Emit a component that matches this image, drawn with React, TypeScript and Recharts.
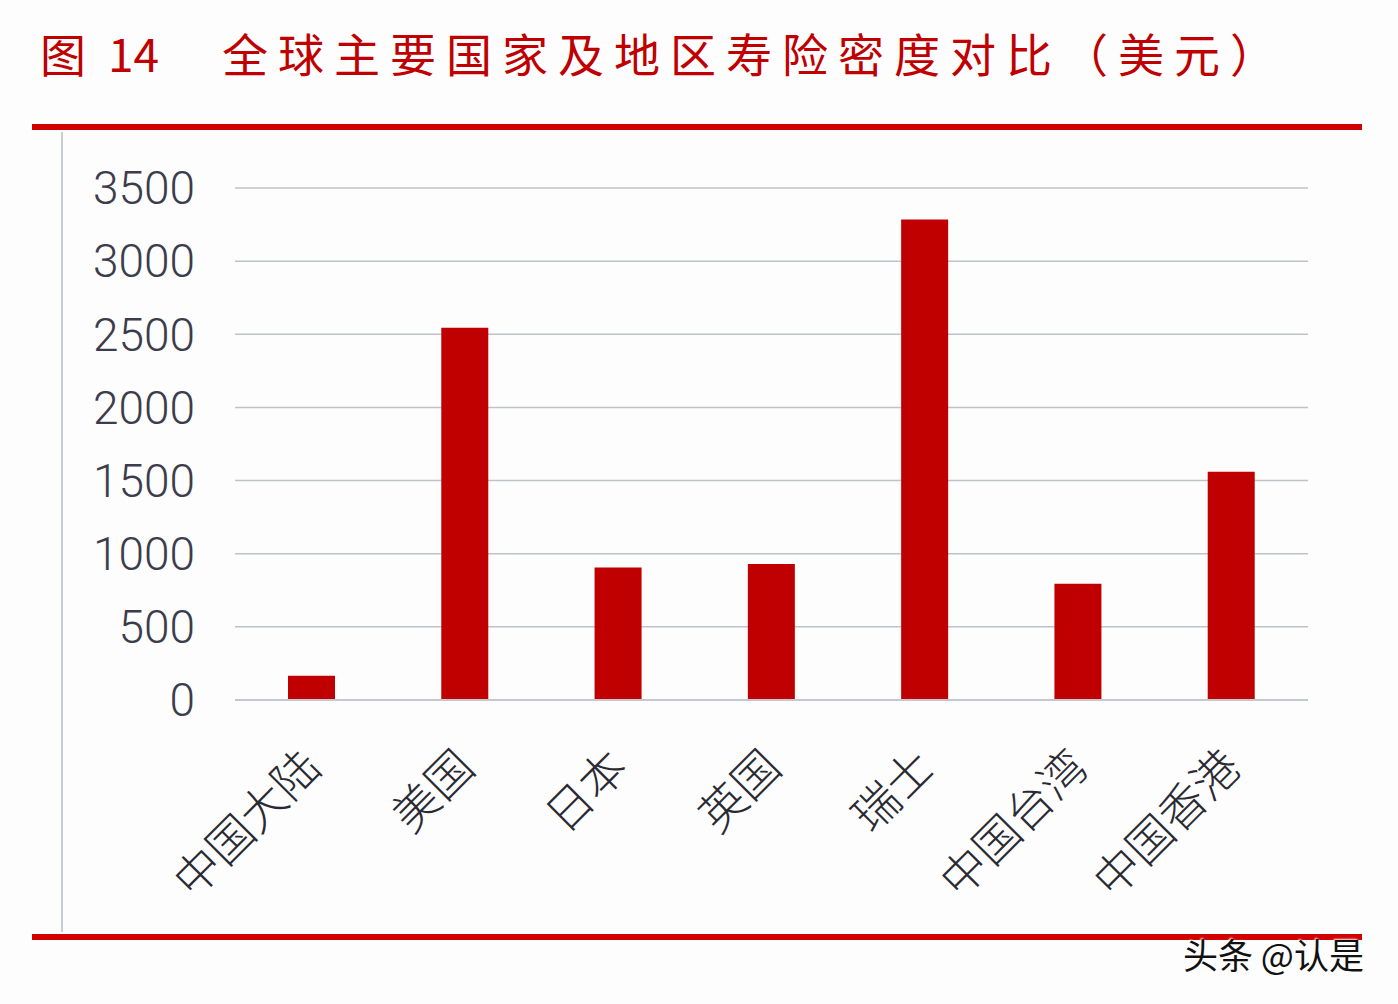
import { BarChart, Bar, XAxis, YAxis, CartesianGrid } from 'recharts'

const regions = ['中国大陆', '美国', '日本', '英国', '瑞士', '中国台湾', '中国香港']
const density = [165, 2545, 905, 930, 3285, 795, 1560]
const yTicks = [0, 500, 1000, 1500, 2000, 2500, 3000, 3500]

const data = regions.map((name, i) => ({ name, value: density[i] }))

const RED = '#c00000'
const LINE_RED = '#d20000'
const cjk = '"Noto Sans CJK SC", "Noto Sans", sans-serif'

function RegionTick({ x, y, payload }: any) {
  return (
    <g transform={`translate(${x + 12},${y + 62})`}>
      <text
        transform="rotate(-45)"
        textAnchor="end"
        fontFamily={cjk}
        fontSize={46}
        fontWeight={300}
        fill="#2a2a32"
      >
        {payload.value}
      </text>
    </g>
  )
}

export default function App() {
  return (
    <div style={{ position: 'absolute', left: 0, top: 0, width: 1398, height: 1004, background: '#fdfdfe', overflow: 'hidden' }}>
      {/* title */}
      <div style={{ position: 'absolute', left: 40, top: 29, fontFamily: cjk, fontSize: 46, lineHeight: 1, color: RED }}>图</div>
      <div style={{ position: 'absolute', left: 108, top: 29, fontFamily: cjk, fontSize: 46, lineHeight: 1, color: RED }}>14</div>
      <div style={{ position: 'absolute', left: 222, top: 29, fontFamily: cjk, fontSize: 46, lineHeight: 1, color: RED, letterSpacing: 10, whiteSpace: 'nowrap' }}>
        全球主要国家及地区寿险密度对比（美元）
      </div>
      <div style={{ position: 'absolute', left: 32, top: 124, width: 1330, height: 6, background: LINE_RED }} />
      <div style={{ position: 'absolute', left: 61, top: 132, width: 2, height: 800, background: '#c8ccd4' }} />

      <div style={{ position: 'absolute', left: 0, top: 0 }}>
        <BarChart width={1398} height={1004} data={data} margin={{ top: 188, right: 90, bottom: 294, left: 155 }} barSize={47}>
          <CartesianGrid vertical={false} stroke="#bfc2ca" strokeWidth={1.5} />
          <XAxis
            dataKey="name"
            axisLine={{ stroke: '#c4c7cf', strokeWidth: 2 }}
            tickLine={false}
            tick={<RegionTick />}
            interval={0}
            height={10}
          />
          <YAxis
            width={80}
            domain={[0, 3500]}
            ticks={yTicks}
            axisLine={false}
            tickLine={false}
            tickSize={0}
            tickMargin={40}
            tick={{ fontFamily: 'Roboto, sans-serif', fontSize: 46, fontWeight: 300, fill: '#3c3c4a' }}
          />
          <Bar dataKey="value" fill={RED} isAnimationActive={false} />
        </BarChart>
      </div>

      <div style={{ position: 'absolute', left: 32, top: 934, width: 1330, height: 6, background: LINE_RED }} />
      <div style={{ position: 'absolute', left: 1183, top: 935, fontFamily: cjk, fontSize: 35, lineHeight: 1.1, color: '#111', whiteSpace: 'nowrap', textShadow: '1px 1px 2px #fff, -1px -1px 2px #fff' }}>
        头条 @认是
      </div>
    </div>
  )
}
